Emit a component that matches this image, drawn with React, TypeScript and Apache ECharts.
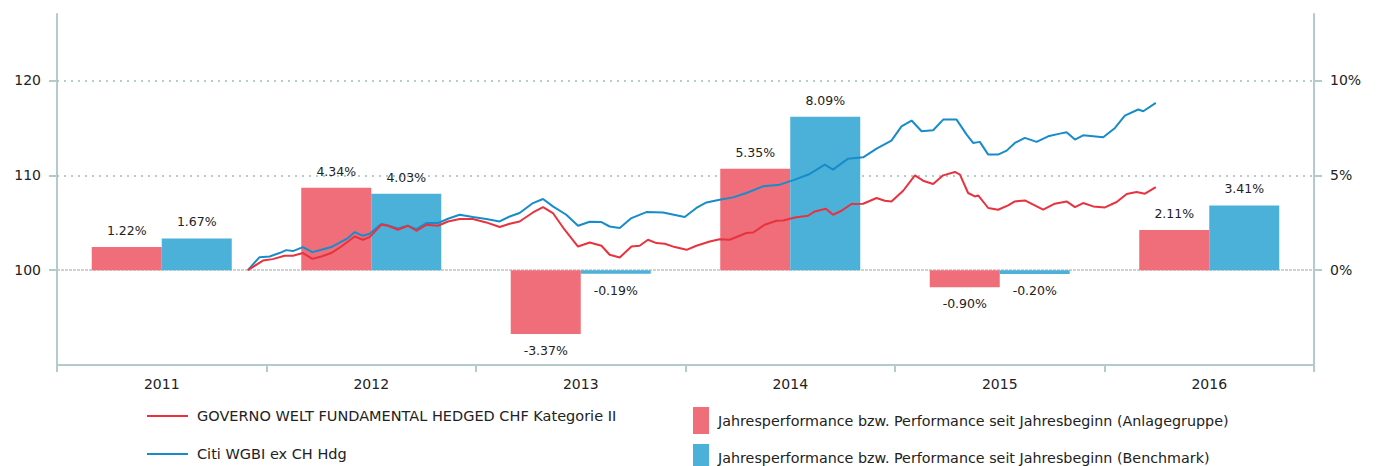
import React, { useEffect, useRef } from "react";
import * as echarts from "echarts";

const categories = ["2011", "2012", "2013", "2014", "2015", "2016"];
const fundYearPerf = [1.22, 4.34, -3.37, 5.35, -0.9, 2.11];
const benchYearPerf = [1.67, 4.03, -0.19, 8.09, -0.2, 3.41];

const leftTicks = [100, 110, 120];
const rightTicks = [0, 5, 10];

const fundName = "GOVERNO WELT FUNDAMENTAL HEDGED CHF Kategorie II";
const benchName = "Citi WGBI ex CH Hdg";
const fundBarName = "Jahresperformance bzw. Performance seit Jahresbeginn (Anlagegruppe)";
const benchBarName = "Jahresperformance bzw. Performance seit Jahresbeginn (Benchmark)";

// time in decimal years
const fundTimes = [
  2011.911, 2011.983, 2012.03, 2012.086, 2012.126, 2012.174, 2012.219, 2012.262, 2012.309, 2012.357,
  2012.421, 2012.46, 2012.492, 2012.548, 2012.58, 2012.627, 2012.675, 2012.715, 2012.763, 2012.818,
  2012.866, 2012.922, 2012.985, 2013.049, 2013.113, 2013.161, 2013.208, 2013.272, 2013.32, 2013.367,
  2013.423, 2013.487, 2013.543, 2013.599, 2013.638, 2013.686, 2013.742, 2013.781, 2013.821, 2013.861,
  2013.901, 2013.949, 2014.005, 2014.052, 2014.116, 2014.163, 2014.211, 2014.291, 2014.323, 2014.378,
  2014.434, 2014.466, 2014.522, 2014.585, 2014.617, 2014.67, 2014.704, 2014.745, 2014.792, 2014.848,
  2014.912, 2014.951, 2014.983, 2015.039, 2015.095, 2015.134, 2015.182, 2015.23, 2015.286, 2015.31,
  2015.349, 2015.381, 2015.397, 2015.445, 2015.492, 2015.54, 2015.572, 2015.62, 2015.66, 2015.707,
  2015.763, 2015.819, 2015.859, 2015.898, 2015.946, 2016.002, 2016.058, 2016.106, 2016.153, 2016.193,
  2016.245,
];
const fundValues = [
  100.0, 101.01, 101.16, 101.51, 101.51, 101.8, 101.19, 101.44, 101.8, 102.49,
  103.55, 103.2, 103.48, 104.78, 104.68, 104.26, 104.68, 104.15, 104.78, 104.68,
  105.13, 105.39, 105.39, 105.03, 104.54, 104.89, 105.13, 106.08, 106.65, 106.02,
  104.26, 102.49, 102.91, 102.57, 101.62, 101.33, 102.49, 102.57, 103.2, 102.85,
  102.78, 102.43, 102.14, 102.57, 103.02, 103.25, 103.2, 103.91, 103.97, 104.78,
  105.21, 105.24, 105.55, 105.73, 106.19, 106.47, 105.84, 106.26, 106.97, 107.0,
  107.6, 107.32, 107.24, 108.37, 109.99, 109.43, 109.08, 109.99, 110.35, 110.06,
  108.13, 107.77, 107.88, 106.55, 106.37, 106.82, 107.24, 107.35, 106.9, 106.37,
  107.0, 107.24, 106.65, 107.07, 106.72, 106.61, 107.18, 108.03, 108.24, 108.06,
  108.76,
];

const benchTimes = [
  2011.911, 2011.967, 2012.015, 2012.062, 2012.094, 2012.126, 2012.174, 2012.219, 2012.262, 2012.309,
  2012.349, 2012.389, 2012.421, 2012.46, 2012.492, 2012.548, 2012.58, 2012.627, 2012.675, 2012.715,
  2012.763, 2012.818, 2012.866, 2012.922, 2012.985, 2013.049, 2013.113, 2013.161, 2013.208, 2013.272,
  2013.32, 2013.367, 2013.431, 2013.487, 2013.543, 2013.599, 2013.638, 2013.686, 2013.742, 2013.813,
  2013.893, 2013.996, 2014.052, 2014.1, 2014.163, 2014.227, 2014.291, 2014.37, 2014.45, 2014.522,
  2014.593, 2014.665, 2014.704, 2014.776, 2014.848, 2014.912, 2014.983, 2015.031, 2015.079, 2015.127,
  2015.182, 2015.23, 2015.294, 2015.342, 2015.373, 2015.405, 2015.445, 2015.492, 2015.533, 2015.572,
  2015.62, 2015.676, 2015.731, 2015.787, 2015.819, 2015.859, 2015.898, 2015.946, 2015.994, 2016.05,
  2016.097, 2016.161, 2016.185, 2016.245,
];
const benchValues = [
  100.0, 101.37, 101.44, 101.8, 102.11, 102.01, 102.43, 101.9, 102.14, 102.43,
  102.91, 103.38, 104.01, 103.62, 103.83, 104.86, 104.71, 104.39, 104.68, 104.33,
  104.96, 104.96, 105.42, 105.84, 105.6, 105.39, 105.13, 105.66, 106.02, 107.07,
  107.5, 106.72, 105.84, 104.68, 105.1, 105.07, 104.6, 104.44, 105.49, 106.12,
  106.08, 105.6, 106.55, 107.14, 107.42, 107.67, 108.13, 108.83, 109.01, 109.54,
  110.14, 111.12, 110.59, 111.75, 111.89, 112.81, 113.65, 115.16, 115.77, 114.64,
  114.74, 115.87, 115.87, 114.29, 113.41, 113.52, 112.18, 112.18, 112.6, 113.41,
  113.94, 113.52, 114.11, 114.39, 114.53, 113.76, 114.21, 114.11, 114.0, 114.99,
  116.29, 116.93, 116.75, 117.63,
];

const FONT = "DejaVu Sans";
const AXIS_COLOR = "#b3cbca";
const RED_BAR = "#f06e7a";
const BLUE_BAR = "#4cb1d8";
const RED_LINE = "#e8323e";
const BLUE_LINE = "#178ccb";

function barData(values: number[]) {
  return values.map((v) => ({
    value: v,
    label: { position: v < 0 ? "bottom" : "top" },
  }));
}

function lineLegend(name: string, top: number) {
  return {
    orient: "vertical",
    left: 147,
    top,
    padding: 0,
    itemWidth: 41,
    itemHeight: 2,
    selectedMode: false,
    textStyle: { fontFamily: FONT, fontSize: 14.5, color: "#222", lineHeight: 16, padding: [0, 0, 0, 4] },
    data: [{ name, icon: "rect" }],
  };
}

function barLegend(name: string, top: number) {
  return {
    orient: "vertical",
    left: 693,
    top,
    padding: 0,
    itemWidth: 16,
    itemHeight: 27,
    selectedMode: false,
    textStyle: { fontFamily: FONT, fontSize: 14.3, color: "#222", padding: [0, 0, 0, 4] },
    data: [{ name, icon: "rect" }],
  };
}

export default function App() {
  const ref = useRef<HTMLDivElement>(null);
  useEffect(() => {
    if (!ref.current) return;
    const chart = echarts.init(ref.current, undefined, { renderer: "svg" });
    const barLabel = {
      show: true,
      distance: 10,
      fontFamily: FONT,
      fontSize: 12.5,
      color: "#222",
      formatter: (p: any) => p.value.toFixed(2) + "%",
    };
    chart.setOption({
      animation: false,
      textStyle: { fontFamily: FONT },
      grid: { left: 57, right: 66, top: 14, bottom: 101, containLabel: false },
      legend: [
        lineLegend(fundName, 408),
        lineLegend(benchName, 446),
        barLegend(fundBarName, 407),
        barLegend(benchBarName, 444),
      ],
      xAxis: [
        {
          type: "category",
          data: categories,
          position: "bottom",
          boundaryGap: true,
          axisLine: { show: true, onZero: false, lineStyle: { color: AXIS_COLOR, width: 2 } },
          axisTick: { show: true, alignWithLabel: false, interval: 0, length: 7, lineStyle: { color: AXIS_COLOR, width: 2 } },
          axisLabel: { margin: 12, fontFamily: FONT, fontSize: 14, color: "#222" },
          splitLine: { show: false },
        },
        {
          type: "value",
          min: 2011,
          max: 2017,
          show: false,
        },
      ],
      yAxis: [
        {
          type: "value",
          position: "left",
          min: 90,
          max: 127,
          axisLine: { show: true, lineStyle: { color: AXIS_COLOR, width: 2 } },
          axisTick: { show: true, length: 8, customValues: leftTicks, lineStyle: { color: AXIS_COLOR, width: 2 } },
          axisLabel: { customValues: leftTicks, margin: 16, fontFamily: FONT, fontSize: 14, color: "#222" },
          splitLine: { show: false },
        },
        {
          type: "value",
          position: "right",
          min: -5,
          max: 13.5,
          axisLine: { show: true, lineStyle: { color: AXIS_COLOR, width: 2 } },
          axisTick: { show: true, length: 8, customValues: rightTicks, lineStyle: { color: AXIS_COLOR, width: 2 } },
          axisLabel: { customValues: rightTicks, margin: 16, fontFamily: FONT, fontSize: 14, color: "#222", formatter: "{value}%" },
          splitLine: { show: false },
        },
      ],
      series: [
        {
          name: fundBarName,
          type: "bar",
          xAxisIndex: 0,
          yAxisIndex: 1,
          barWidth: 70,
          barGap: "0%",
          itemStyle: { color: RED_BAR },
          label: barLabel,
          data: barData(fundYearPerf),
          z: 2,
        },
        {
          name: benchBarName,
          type: "bar",
          xAxisIndex: 0,
          yAxisIndex: 1,
          barWidth: 70,
          barGap: "0%",
          itemStyle: { color: BLUE_BAR },
          label: barLabel,
          data: barData(benchYearPerf),
          z: 2,
        },
        {
          name: benchName,
          type: "line",
          xAxisIndex: 1,
          yAxisIndex: 0,
          symbol: "none",
          showSymbol: false,
          itemStyle: { color: BLUE_LINE },
          lineStyle: { color: BLUE_LINE, width: 2 },
          data: benchTimes.map((t, i) => [t, benchValues[i]]),
          z: 4,
        },
        {
          name: fundName,
          type: "line",
          xAxisIndex: 1,
          yAxisIndex: 0,
          symbol: "none",
          showSymbol: false,
          itemStyle: { color: RED_LINE },
          lineStyle: { color: RED_LINE, width: 2 },
          data: fundTimes.map((t, i) => [t, fundValues[i]]),
          z: 5,
          markLine: {
            silent: true,
            symbol: "none",
            label: { show: false },
            z: 1,
            data: [
              { yAxis: 110, lineStyle: { color: "#9dbfbb", width: 1.5, type: [2, 5] } },
              { yAxis: 120, lineStyle: { color: "#9dbfbb", width: 1.5, type: [2, 5] } },
              { yAxis: 100, lineStyle: { color: "#c2c2c2", width: 1.5, type: [3, 1] } },
            ],
          },
        },
      ],
    });
    return () => chart.dispose();
  }, []);
  return <div ref={ref} style={{ width: 1380, height: 466, position: "absolute", left: 0, top: 0 }} />;
}
